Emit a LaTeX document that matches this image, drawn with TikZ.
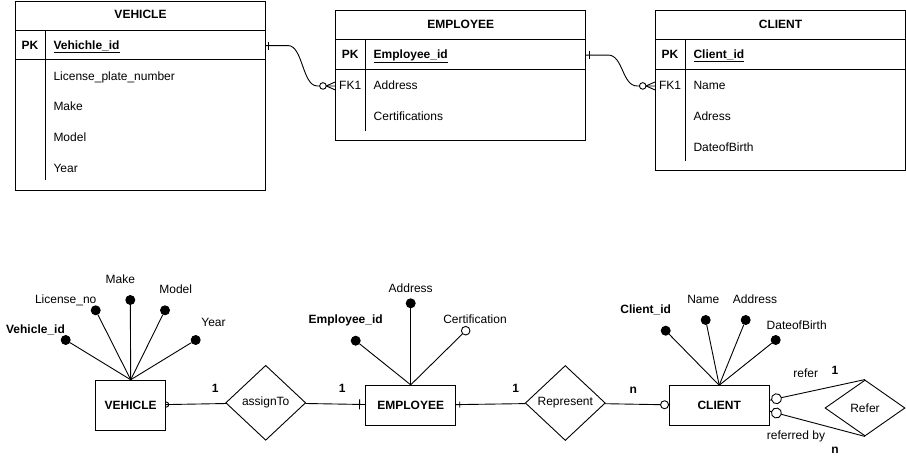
\documentclass[tikz,border=0pt]{standalone}
\usepackage{fontspec}
\setmainfont{Liberation Sans}
\usetikzlibrary{positioning, shapes.geometric, decorations.markings}
\newcommand{\diafont}{\fontsize{12pt}{14pt}\selectfont}
\tikzset{
txt/.style={font=\diafont, inner sep=0pt, text height=9pt, text depth=1.8pt},
bold/.style={txt, font=\diafont\bfseries},
tab/.style={rectangle, draw=black, minimum width=250pt, inner sep=0pt},
row/.style={txt, anchor=west, minimum height=30pt},
keyrow/.style={row, font=\diafont\bfseries},
entity/.style={%
    rectangle,
    draw=black,
    inner sep=0pt,
    font=\diafont\bfseries
},
relation/.style={%
    diamond,
    draw=black,
    inner sep=0pt,
    minimum width=80pt,
    minimum height=75pt,
    font=\diafont
},
dot/.style={circle, draw=black, fill=black, inner sep=0pt, minimum size=9pt},
ring/.style={dot, fill=white, minimum size=8.6pt},
% connector ends
barat/.style args={#1/#2}{postaction={decorate, decoration={markings,
    mark=at position #1 with {\draw (0,-#2) -- (0,#2);}}}},
ringat/.style args={#1/#2}{postaction={decorate, decoration={markings,
    mark=at position #1 with {\draw[fill=white] (0,0) circle (#2);}}}},
halfring/.style={postaction={decorate, decoration={markings,
    mark=at position 0pt with {\draw (0,2.6pt) arc (90:-90:2.6pt);}}}},
crowend/.style={postaction={decorate, decoration={markings,
    mark=at position -0.01pt with {\draw (-9pt,0) -- (0,4pt) (-9pt,0) -- (0,-4pt);
        \draw[fill=white] (-12.3pt,0) circle (3.3pt);}}}},
}

\begin{document}
\begin{tikzpicture}[x=1pt, y=-1pt, line width=0.9pt]
	\useasboundingbox (0,0) rectangle (906,461);

	% tables
	\node[tab, minimum height=189pt] (vTab) at (140.5,95.5) {};
	\node[tab, minimum height=130pt] (eTab) at (460.7,75.5) {};
	\node[tab, minimum height=160pt] (cTab) at (780.5,90.5) {};
	\foreach \t in {vTab,eTab,cTab} {
		\draw ([yshift=-29.5pt]\t.north west) -- ([yshift=-29.5pt]\t.north east);
		\draw ([yshift=-59pt]\t.north west) -- ([yshift=-59pt]\t.north east);
		\draw ([xshift=30pt,yshift=-29.5pt]\t.north west) -- ([xshift=30pt,yshift=10pt]\t.south west);
	}

	\node[bold] (vHead) at ([yshift=-14.5pt]vTab.north) {VEHICLE};
	\node[bold] (vPk) at ([xshift=15pt,yshift=-45pt]vTab.north west) {PK};
	\node[keyrow] (vKey) at ([xshift=38pt,yshift=-45pt]vTab.north west) {\underline{Vehichle\_id}};
	\node[row, below right=0pt of vKey.south west] (vR1) {License\_plate\_number};
	\node[row, below right=0pt of vR1.south west] (vR2) {Make};
	\node[row, below right=0pt of vR2.south west] (vR3) {Model};
	\node[row, below right=0pt of vR3.south west] (vR4) {Year};

	\node[bold] (eHead) at ([yshift=-14.5pt]eTab.north) {EMPLOYEE};
	\node[bold] (ePk) at ([xshift=15pt,yshift=-45pt]eTab.north west) {PK};
	\node[txt, below=19.2pt of ePk] (eFk) {FK1};
	\node[keyrow] (eKey) at ([xshift=38pt,yshift=-45pt]eTab.north west) {\underline{Employee\_id}};
	\node[row, below right=0pt of eKey.south west] (eR1) {Address};
	\node[row, below right=0pt of eR1.south west] (eR2) {Certifications};

	\node[bold] (cHead) at ([yshift=-14.5pt]cTab.north) {CLIENT};
	\node[bold] (cPk) at ([xshift=15pt,yshift=-45pt]cTab.north west) {PK};
	\node[txt, below=19.2pt of cPk] (cFk) {FK1};
	\node[keyrow] (cKey) at ([xshift=38pt,yshift=-45pt]cTab.north west) {\underline{Client\_id}};
	\node[row, below right=0pt of cKey.south west] (cR1) {Name};
	\node[row, below right=0pt of cR1.south west] (cR2) {Adress};
	\node[row, below right=0pt of cR2.south west] (cR3) {DateofBirth};

	\coordinate (eIn) at (eTab.west |- eR1);
	\coordinate (cIn) at (cTab.west |- cR1);
	\draw[barat=2.5pt/4pt, crowend] (vTab.east |- vKey) -- ++(22,0)
		.. controls +(15,0) and +(-15,0) .. ([xshift=-18pt]eIn) -- (eIn);
	\draw[barat=3pt/4pt, crowend] (eTab.east |- eKey) -- ++(22,0)
		.. controls +(15,0) and +(-15,0) .. ([xshift=-18pt]cIn) -- (cIn);

	% ER diagram
	\node[entity, minimum width=70pt, minimum height=50pt] (vEnt) at (130.7,405.2) {VEHICLE};
	\node[relation] (assign) at (265.7,402.8) {assignTo};
	\node[entity, minimum width=90pt, minimum height=40pt] (eEnt) at (410.7,405.3) {EMPLOYEE};
	\node[relation] (repr) at (565.3,403) {Represent};
	\node[entity, minimum width=100pt, minimum height=40pt] (cEnt) at (719.2,405.7) {CLIENT};
	\node[relation, minimum height=56pt] (refer) at (865,408) {Refer};

	\node[dot] (vD1) at (65.7,340) {};
	\node[dot] (vD2) at (95.7,310.3) {};
	\node[dot] (vD3) at (130.3,300) {};
	\node[dot] (vD4) at (165,310.3) {};
	\node[dot] (vD5) at (195.7,340) {};
	\foreach \i in {1,...,5} \draw (vEnt.north) -- (vD\i);
	\node[bold] (vL1) at (35.5,329.5) {Vehicle\_id};
	\node[txt] (vL2) at (65.7,300) {License\_no};
	\node[txt] (vL3) at (120.3,280) {Make};
	\node[txt] (vL4) at (175.7,290) {Model};
	\node[txt] (vL5) at (213.5,323.3) {Year};

	\node[dot] (eD1) at (355.7,340.7) {};
	\node[dot] (eD2) at (410.7,303.3) {};
	\node[ring] (eD3) at (465.7,330.7) {};
	\foreach \i in {1,...,3} \draw (eEnt.north) -- (eD\i);
	\node[bold] (eL1) at (345.7,320) {Employee\_id};
	\node[txt] (eL2) at (410.7,289.3) {Address};
	\node[txt] (eL3) at (475,320) {Certification};

	\node[dot] (cD1) at (665.7,330.7) {};
	\node[dot] (cD2) at (705.7,320) {};
	\node[dot] (cD3) at (745.7,320) {};
	\node[dot] (cD4) at (775.7,340) {};
	\foreach \i in {1,...,4} \draw (cEnt.north) -- (cD\i);
	\node[bold] (cL1) at (645.7,310) {Client\_id};
	\node[txt] (cL2) at (703.3,300) {Name};
	\node[txt] (cL3) at (755,300) {Address};
	\node[txt] (cL4) at (796.7,326) {DateofBirth};

	\draw[halfring] (vEnt) -- (assign);
	\draw[barat=-5.7pt/5pt] (assign) -- (eEnt);
	\draw[barat=3.6pt/3pt] (eEnt) -- (repr);
	\draw[ringat=-4.2pt/4pt] (repr) -- (cEnt);
	\draw[ringat=7pt/5pt] ([yshift=5.5pt]cEnt.east) -- (refer.north);
	\draw[ringat=7pt/5pt] ([yshift=-5.5pt]cEnt.east) -- (refer.south);

	\node[bold] (k1) at (215.3,389.3) {1};
	\node[bold] (k2) at (342.3,389) {1};
	\node[bold] (k3) at (515.7,389) {1};
	\node[bold] (k4) at (633.3,390) {n};
	\node[bold] (k5) at (835,370.7) {1};
	\node[bold] (k6) at (835,450) {n};
	\node[txt] (rRefer) at (805.7,374) {refer};
	\node[txt] (rBy) at (796,435.7) {referred by};
\end{tikzpicture}
\end{document}
